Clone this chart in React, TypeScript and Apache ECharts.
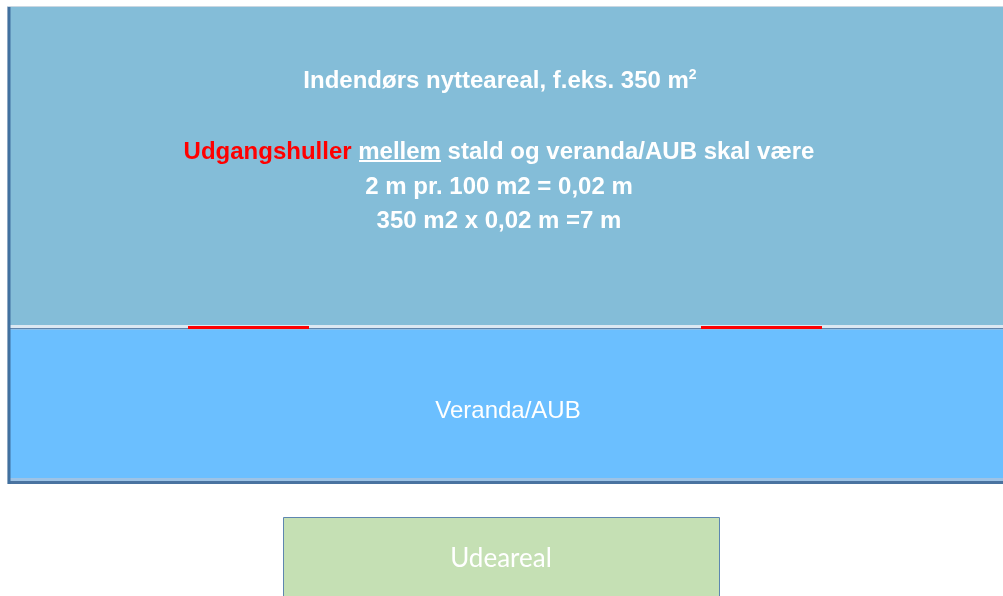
import React, { useEffect, useRef } from "react";
import * as echarts from "echarts";

// Diagram content
const titleMain = "Indendørs nytteareal, f.eks. 350 m";
const titleSup = "2";
const ruleRed = "Udgangshuller";
const ruleUnder = "mellem";
const ruleRest = " stald og veranda/AUB skal være";
const calcLines = ["2 m pr. 100 m2 = 0,02 m", "350 m2 x 0,02 m =7 m"];
const verandaLabel = "Veranda/AUB";
const outdoorLabel = "Udeareal";
// Openings (x start, x end) along the wall
const openings: [number, number][] = [
  [188, 309],
  [701, 822],
];

const FONT = "'Liberation Sans', Arial, sans-serif";

export default function App() {
  const ref = useRef<HTMLDivElement>(null);
  useEffect(() => {
    if (!ref.current) return;
    const chart = echarts.init(ref.current, null, { renderer: "svg" });
    const W = 1003;
    const els: any[] = [];
    // outer top thin line
    els.push({ type: "rect", shape: { x: 7, y: 6, width: W, height: 1 }, style: { fill: "#C9D7E2" } });
    // top fill
    els.push({ type: "rect", shape: { x: 10, y: 7, width: W, height: 318 }, style: { fill: "#84BDD8" } });
    // divider light band
    els.push({ type: "rect", shape: { x: 10, y: 325, width: W, height: 3 }, style: { fill: "#DCE8F2" } });
    // divider dark line
    els.push({ type: "rect", shape: { x: 10, y: 328, width: W, height: 1.5 }, style: { fill: "#5F84AC" } });
    // bottom fill
    els.push({ type: "rect", shape: { x: 10, y: 329.5, width: W, height: 148.5 }, style: { fill: "#6BBFFF" } });
    // bottom bands
    els.push({ type: "rect", shape: { x: 10, y: 478, width: W, height: 3 }, style: { fill: "#9DC3E6" } });
    els.push({ type: "rect", shape: { x: 7, y: 481, width: W, height: 3 }, style: { fill: "#4A73A0" } });
    // left border
    els.push({ type: "rect", shape: { x: 7, y: 7, width: 1, height: 477 }, style: { fill: "#8FA9C4" } });
    els.push({ type: "rect", shape: { x: 8, y: 7, width: 2.5, height: 477 }, style: { fill: "#41709F" } });
    // openings
    openings.forEach(([a, b]) => {
      els.push({ type: "rect", shape: { x: a, y: 326, width: b - a, height: 3 }, style: { fill: "#FF0000" } });
    });
    // title
    els.push({
      type: "text",
      x: 500,
      y: 79,
      style: {
        text: "{m|" + titleMain + "}{s|" + titleSup + "}",
        align: "center",
        verticalAlign: "middle",
        rich: {
          m: { fontFamily: FONT, fontSize: 24, fontWeight: "bold", fill: "#FFFFFF", verticalAlign: "bottom" },
          s: { fontFamily: FONT, fontSize: 14, fontWeight: "bold", fill: "#FFFFFF", verticalAlign: "top" },
        },
      },
    });
    // rule line
    els.push({
      type: "text",
      x: 499,
      y: 150,
      style: {
        text: "{r|" + ruleRed + " }{w|" + ruleUnder + "}{w|" + ruleRest + "}",
        align: "center",
        verticalAlign: "middle",
        rich: {
          r: { fontFamily: FONT, fontSize: 24, fontWeight: "bold", fill: "#FF0000" },
          w: { fontFamily: FONT, fontSize: 24, fontWeight: "bold", fill: "#FFFFFF" },
        },
      },
    });
    // underline for "mellem"
    els.push({ type: "rect", shape: { x: 359, y: 160, width: 82, height: 2 }, style: { fill: "#FFFFFF" } });
    calcLines.forEach((t, i) => {
      els.push({
        type: "text",
        x: 499,
        y: 185 + i * 34.5,
        style: {
          text: t,
          align: "center",
          verticalAlign: "middle",
          fontFamily: FONT,
          fontSize: 24,
          fontWeight: "bold",
          fill: "#FFFFFF",
        },
      });
    });
    els.push({
      type: "text",
      x: 508,
      y: 409,
      style: {
        text: verandaLabel,
        align: "center",
        verticalAlign: "middle",
        fontFamily: FONT,
        fontSize: 24,
        fill: "#FFFFFF",
      },
    });
    // outdoor box
    els.push({
      type: "rect",
      shape: { x: 283.5, y: 517.5, width: 436, height: 90 },
      style: { fill: "#C5E0B4", stroke: "#5E86B0", lineWidth: 1 },
    });
    els.push({
      type: "text",
      x: 501,
      y: 557,
      style: {
        text: outdoorLabel,
        align: "center",
        verticalAlign: "middle",
        fontFamily: "Lato, 'Open Sans', sans-serif",
        fontSize: 26,
        fill: "#FFFFFF",
      },
    });
    chart.setOption({ animation: false, graphic: { elements: els } });
    return () => chart.dispose();
  }, []);
  return <div ref={ref} style={{ position: "fixed", left: 0, top: 0, width: 1003, height: 596 }} />;
}
